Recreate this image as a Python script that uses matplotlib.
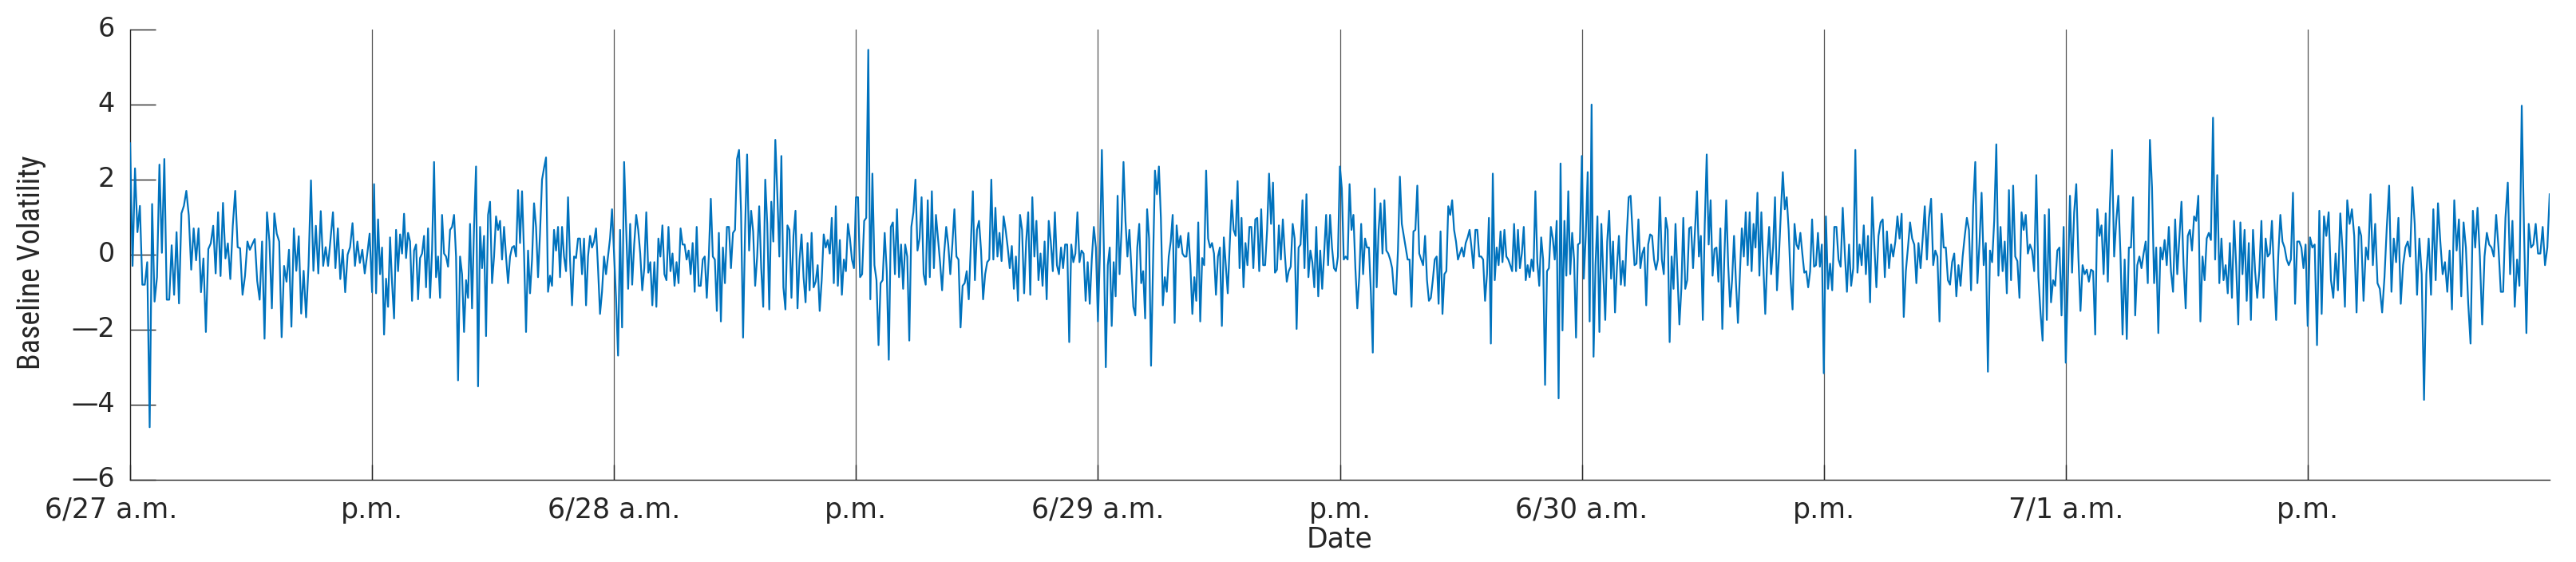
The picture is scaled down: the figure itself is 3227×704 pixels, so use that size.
import numpy as np
import matplotlib
matplotlib.use("Agg")
import matplotlib.pyplot as plt
from matplotlib import font_manager
from matplotlib.transforms import blended_transform_factory, ScaledTranslation

# Baseline volatility, one list per half-day
jun27_am = [2.97, -0.3, 2.3, 0.6, 1.3, -0.8, -0.8, -0.2, -4.6, 1.35, -1.25, -0.6, 2.4, 0.05, 2.55, -1.2, -1.2, 0.25, -1.07, 0.6, -1.3, 1.1, 1.3, 1.7, 1.05, -0.4, 0.7, -0.15, 0.7, -1.0, -0.1, -2.06, 0.15, 0.3, 0.77, -0.5, 1.13, -0.57, 1.38, -0.1, 0.3, -0.65, 0.77, 1.7, 0.2, 0.17, -1.07, -0.57, 0.35, 0.13, 0.28, 0.42, -0.7, -1.2, 0.35, -2.24, 1.13, 0.35, -1.43, 1.1, 0.56, 0.35, -2.2, -0.3, -0.72, 0.13, -1.92, 0.7, -0.43, 0.49, -1.57, -0.43, -1.67, -0.3, 1.98, -0.43, 0.77, -0.5, 1.16, -0.3, 0.2, -0.3, 0.42, 1.13, -0.36, 0.7, -0.65, 0.13, -1.0, 0.0, 0.2, 0.84, -0.3, 0.35, -0.22, 0.13, -0.5, 0.0, 0.56]
jun27_pm = [-1.0, 1.88, -1.03, 0.94, -0.52, 0.19, -2.13, -0.64, -1.39, 0.46, -0.76, -1.7, 0.66, -0.44, 0.54, 0.03, 1.09, -0.09, 0.58, 0.35, -1.23, 0.11, 0.27, -1.19, -0.09, 0.03, 0.5, -0.87, 0.7, -1.15, 0.11, 2.47, -0.6, -0.05, -1.15, 1.06, 0.03, -0.05, -0.32, 0.66, 0.74, 1.06, -0.05, -3.35, -0.05, -0.52, -2.06, -0.68, -1.15, 0.82, -1.43, 0.74, 2.35, -3.51, 0.74, -0.36, 0.5, -2.17, 1.06, 1.41, -0.76, -0.05, 1.02, 0.66, 0.9, -0.13, 0.74, -0.05, -0.76, -0.05, 0.19, 0.23, -0.05, 1.72, 0.31, 1.69, 0.03, -2.06, 0.11, -1.03, -0.13, 1.37, 0.74, -0.6, 0.58, 2.0, 2.31, 2.59, -0.99, -0.56, -0.83, 0.66, 0.11, 0.74, -0.6, 0.74, -0.05, -0.44, 1.53, -0.13, -1.35, -0.05, -0.09, 0.43, 0.43, -0.52, 0.43, -1.35, -0.05, 0.5, 0.19, 0.35, 0.7, -0.36, -1.58, -0.99, -0.05, -0.52, -0.05, 0.43, 1.21]
jun28_am = [0.03, -1.15, -2.69, 0.66, -1.94, 2.47, 0.74, -0.91, 0.82, -0.8, 0.27, 1.06, 0.66, 0.03, -0.95, -0.36, 1.13, -0.48, -0.2, -1.35, -0.2, -1.39, 0.43, -0.05, 0.78, -0.52, -0.68, 0.74, -0.44, 0.03, -0.83, -0.2, -0.76, 0.7, 0.27, 0.27, -0.13, 0.11, -0.52, 0.31, -0.99, 0.74, -0.83, -0.83, -0.13, -0.05, -1.15, -0.05, 1.49, -0.05, -0.13, -1.5, 0.58, -1.78, 0.19, -0.76, 0.74, 0.74, -0.36, 0.58, 0.66, 2.55, 2.79, 1.13, -2.21, 0.66, 2.67, 0.11, 1.17, 0.62, -0.83, -0.05, 1.29, -0.36, -1.39, 2.0, 0.82, -1.46, 1.41, 0.35, 3.06, 1.61, -0.05, 2.63, -0.87, -1.46, 0.78, 0.66, -1.15, 0.5, 1.17, -1.43, -0.13, 0.54, -0.6, -1.27, 0.31, -0.95, 0.58, -0.87, -0.72, -0.28, -1.5, -0.68, 0.54, 0.19, 0.39, 0.03, 0.98, -0.76, 1.29, -0.83, 0.39, -1.07, -0.13, -0.44, 0.82, 0.43, -0.13, -0.36]
jun28_pm = [1.53, 1.53, -0.6, -0.52, 0.9, 0.98, 5.46, -1.19, 2.16, -0.28, -0.68, -2.41, -0.76, -0.68, 0.58, -0.44, -2.8, 0.74, 0.86, -0.52, 1.21, -0.6, 0.27, -0.91, 0.27, -0.05, -2.29, 0.74, 1.13, 2.0, 0.11, 0.43, 1.53, -0.52, -0.8, 1.45, -0.6, 1.69, -0.36, 1.06, 0.43, -0.2, -0.95, 0.03, 0.74, 0.27, -0.52, 0.27, 1.21, -0.05, -0.13, -1.94, -0.83, -0.76, -0.44, -1.19, 0.27, 1.69, -0.68, 0.66, 0.9, 0.11, -1.19, -0.52, -0.2, -0.13, 2.0, -0.13, 1.25, -0.05, 0.58, -0.17, 1.02, 0.66, 0.19, -0.36, 0.23, -0.91, -0.05, -1.23, 1.06, 0.66, -1.03, 0.35, 1.13, -1.07, 1.53, -0.05, 0.9, -0.68, 0.03, -0.83, 0.35, -1.19, 0.9, 0.35, -0.44, 1.13, -0.28, -0.52, 0.19, -0.36, 0.27, 0.27, -2.33, 0.27, -0.2, 0.03, 1.13, -0.2, 0.11, 0.03, -1.23, -0.2, -1.31, -0.13, 0.74, 0.19]
jun29_am = [-1.78, 0.03, 2.79, 0.19, -3.0, -0.28, 0.19, -1.9, -0.2, -1.11, 1.57, -0.52, 0.66, 2.47, 0.9, -0.05, 0.66, -0.36, -1.39, -1.62, 0.19, 0.82, -0.76, -0.44, -1.7, 1.21, 0.43, -2.96, -0.28, 2.24, 1.61, 2.35, 0.98, -1.35, -0.6, -0.99, -0.05, 0.35, 1.06, -1.82, 0.78, 0.19, 0.5, 0.03, -0.05, -0.05, 0.58, -0.28, -1.58, -0.6, -1.23, 0.86, -1.78, -0.09, -0.28, 2.24, 0.43, 0.19, 0.31, 0.03, -1.07, -0.05, 0.19, -1.9, 0.46, -0.28, -1.03, 0.27, 1.45, 0.66, 0.5, 1.96, -0.36, 0.98, -0.87, 0.31, -0.28, 0.74, 0.74, -0.36, 0.94, 0.98, -0.44, 1.21, -0.28, -0.28, 0.66, 2.16, 0.82, 1.92, -0.48, -0.4, 0.78, -0.13, 0.94, 0.03, -0.72, -0.44, -0.32, 0.82, 0.43, -1.98, 0.19, 0.27, 1.45, -0.36, 1.61, -0.6, 0.11, -0.2, -0.87, 0.74, -1.11, 0.11, -0.91, 0.03, 1.06, -0.28, 1.06, 0.19, -0.36, -0.44, -0.05]
jun29_pm = [2.35, 1.76, -0.13, -0.05, -0.13, 1.88, 0.66, 1.06, -0.36, -1.43, -0.6, 0.82, -0.52, 0.43, 0.19, 0.19, -0.99, -2.61, 1.76, -0.87, 0.66, 1.37, 0.03, 1.45, 0.11, 0.03, -0.13, -0.36, -1.03, -1.07, 0.11, 2.08, 0.82, 0.5, 0.19, -0.13, -0.13, -1.39, 0.62, 0.66, 1.84, 0.03, -0.13, -0.28, 0.5, -0.68, -1.23, -1.15, -0.68, -0.13, -0.05, -1.31, 0.62, -1.58, -0.52, -0.44, 1.29, 1.06, 1.45, 0.66, 0.35, -0.13, 0.03, 0.19, -0.05, 0.31, 0.46, 0.66, 0.19, -0.36, 0.66, 0.66, -0.05, -0.05, -0.13, -1.23, -0.52, 0.98, -2.37, 2.16, -0.68, 0.19, -0.28, 0.62, -0.2, 0.66, -0.05, -0.13, -0.28, -0.44, 0.82, -0.44, 0.66, -0.36, 0.03, 0.74, -0.68, -0.28, -0.6, -0.13, -0.44, 1.69, -0.2, -0.83, 0.46, -0.13, -3.47, -0.44, -0.36, 0.74, 0.43, -0.13, 0.9, -3.83, 2.43, -2.02, 0.9, -0.56, 1.69, -0.52, 0.58, -0.13, -2.21, 0.27, 0.31]
jun30_am = [2.63, -0.64, 0.5, 2.2, -1.78, 4.0, -2.72, -0.28, 1.02, -2.06, 0.82, -0.52, -1.74, 0.35, 1.17, -0.64, 0.35, -1.54, -0.32, 0.5, -0.8, -0.17, -0.83, 0.5, 1.53, 1.57, 0.58, -0.28, -0.24, 0.94, -0.36, 0.03, 0.19, -1.35, 0.27, 0.54, 0.5, -0.13, -0.4, -0.13, 1.53, -0.13, -0.52, 0.98, 0.66, -2.33, -0.05, -0.91, 0.82, -0.52, -1.86, -0.91, 0.98, -0.91, -0.68, 0.7, 0.74, -0.36, 0.66, 1.69, -0.05, 0.5, -1.74, 0.82, 2.67, 0.27, 1.45, -0.56, 0.15, 0.19, -0.72, 0.7, -1.98, -0.13, 1.45, -0.28, -1.39, -0.68, 0.5, -0.76, -1.82, -0.52, 0.7, -0.05, 1.13, -0.28, 1.13, -0.44, 0.82, 0.19, 1.65, -0.56, 1.13, -0.28, -1.58, -0.13, 0.74, -0.52, 0.19, 1.53, -0.95, -0.05, 1.13, 2.2, 1.21, 1.53, 0.66, -0.68, -1.46, 0.82, 0.27, 0.15, 0.58, 0.03, -0.48, -0.44, -0.87, -0.44, 0.94, -0.32, -0.28, 0.58, -0.32, 0.27]
jun30_pm = [-3.16, 1.02, -0.91, -0.24, -0.95, 0.74, 0.74, -0.13, -0.32, 1.25, 0.03, -0.99, 0.27, -0.83, -0.36, 2.79, -0.48, 0.27, -0.28, 0.78, -0.52, 0.5, -1.27, 1.53, 0.27, -0.87, 0.5, 0.86, 0.94, -0.6, 0.62, -0.36, 0.27, -0.05, 0.35, 1.02, 0.43, 1.09, -1.66, -0.44, 0.19, 0.86, 0.43, 0.27, -0.76, 0.31, -0.36, 0.43, 1.29, -0.13, 0.98, 1.49, -0.28, 0.11, -0.05, -1.78, 1.09, 0.19, 0.19, -0.68, -0.8, -0.2, 0.03, -1.11, -0.28, -0.83, -0.05, 0.5, 0.98, 0.66, -0.95, 1.29, 2.47, -0.76, 0.31, 1.65, -0.28, 0.31, -3.12, 0.11, -0.2, 0.9, 2.94, -0.56, 0.74, -0.44, 0.35, -1.03, 1.72, -0.68, 1.84, -0.05, -0.17, -1.15, 1.13, 0.66, 1.06, 0.03, 0.27, 0.11, -0.44, 2.12, -0.6, -1.54, -2.29, 1.06, -1.74, 1.21, -1.27, -0.68, -0.83, 0.11, 0.19, -1.62, 0.74]
jul01_am = [-2.88, -0.76, 1.57, -0.48, 1.13, 1.88, -0.05, -1.5, -0.28, -0.52, -0.4, -0.72, -0.4, -0.44, -2.13, 1.21, 0.5, 0.78, -0.52, 1.1, -0.72, 1.37, 2.79, -0.05, 0.9, 1.57, 0.03, -2.13, -0.13, -2.25, 0.19, 0.19, 1.53, -1.62, -0.28, -0.05, -0.36, 0.03, 0.35, -0.76, 3.06, 1.8, -0.76, 0.19, -2.09, 0.19, -0.13, 0.39, -0.28, 0.74, -0.44, -0.99, 0.94, -0.52, 0.43, 1.41, -0.28, -1.43, 0.5, 0.66, 0.11, 1.02, 0.9, 1.57, -1.78, -0.05, -0.68, 0.43, 0.58, 0.39, 3.65, -0.13, 2.12, -0.76, 0.43, -0.68, -0.28, -1.03, 0.31, -1.15, 0.9, -0.28, -1.86, 0.86, -0.52, 0.66, -1.23, 0.31, -1.74, 0.66, -0.44, -1.15, -0.44, 0.9, -1.15, 0.43, -0.05, 0.03, 0.9, -0.52, -1.74, -0.05, 1.06, 0.35, 0.19, -0.13, -0.28, -0.13, 1.65, -1.31, 0.35, 0.35, 0.19, -0.36, 0.27]
jul01_pm = [-1.9, 0.46, 0.19, 0.27, -2.41, 1.17, -1.58, 1.02, 0.5, 1.13, -0.68, -1.15, 0.03, -0.95, 1.1, 0.11, -1.39, 1.45, 0.82, 1.21, 0.5, -1.54, 0.74, 0.5, -1.23, 0.19, -0.13, 1.61, -0.28, 0.82, -0.76, -0.91, -1.54, -0.6, 0.74, 1.84, -0.99, 0.43, -0.2, 0.98, -1.31, -0.28, 0.19, 0.35, -0.05, 1.8, 0.82, -1.07, 0.43, -0.52, -3.87, -0.52, 0.43, -1.07, 1.21, -0.68, 1.37, 0.35, -0.52, -0.2, -0.99, 0.11, -1.46, 1.45, 0.11, 0.94, -1.11, 0.86, 0.19, -1.31, -2.37, 1.17, 0.19, 1.25, -0.05, -1.86, -0.05, 0.58, 0.27, 0.19, -0.05, 1.06, 0.19, -0.99, -0.99, 0.98, 1.92, -0.52, 0.9, -1.39, -0.13, -0.83, 3.97, 0.58, -2.09, 0.82, 0.19, 0.27, 0.82, 0.03, 0.03, 0.74, -0.28, 0.19, 1.61]

half_days = [jun27_am, jun27_pm, jun28_am, jun28_pm, jun29_am,
             jun29_pm, jun30_am, jun30_pm, jul01_am, jul01_pm]
tick_labels = ['6/27 a.m.', 'p.m.', '6/28 a.m.', 'p.m.', '6/29 a.m.',
               'p.m.', '6/30 a.m.', 'p.m.', '7/1 a.m.', 'p.m.']
y_ticks = [-6, -4, -2, 0, 2, 4, 6]
y_tick_labels = ['\u2014' + '6', '\u2014' + '4', '\u2014' + '2', '0', '2', '4', '6']

# time axis in half-days, samples evenly spaced within each half-day
t_parts, v_parts = [], []
for k, seg in enumerate(half_days):
    n = len(seg)
    if k == len(half_days) - 1:
        t_parts.append(np.linspace(k, k + 1, n))
    else:
        t_parts.append(k + np.arange(n) / n)
    v_parts.append(np.asarray(seg, dtype=float))
t = np.concatenate(t_parts)
v = np.concatenate(v_parts)

# narrowest installed family for the rotated (condensed-looking) label
names = {f.name for f in font_manager.fontManager.ttflist}
narrow_pref = ['Liberation Sans Narrow', 'Roboto Condensed', 'Open Sans Condensed',
               'Noto Sans Condensed', 'DejaVu Sans Condensed', 'Roboto', 'Liberation Sans']
ylab_family = next((f for f in narrow_pref if f in names), 'DejaVu Sans')

W, H = 3227, 704
DPI = 100
fig = plt.figure(figsize=(W / DPI, H / DPI), dpi=DPI)
ax = fig.add_axes([163 / W, 1 - 601 / H, (3194 - 163) / W, (601 - 37) / H])

axis_col = '#262626'
for k in range(1, len(half_days)):
    ax.axvline(k, color='#555555', lw=0.9, zorder=1)

ax.plot(t, v, color='#0072BD', lw=1.6, zorder=3)

ax.set_xlim(0, len(half_days))
ax.set_ylim(-6, 6)
ax.set_xticks(range(len(half_days)))
ax.set_xticklabels(tick_labels, fontsize=25, family='DejaVu Sans', color=axis_col)
ax.set_yticks(y_ticks)

ax.tick_params(axis='y', direction='in', length=23, width=1.0, color=axis_col,
               labelleft=False)
ax.tick_params(axis='x', direction='in', length=14, width=1.0, color=axis_col, pad=15)

# first date label sits a little left of its tick in the original
first = ax.xaxis.get_major_ticks()[0].label1
first.set_transform(first.get_transform() + ScaledTranslation(-24.0 / DPI, 0, fig.dpi_scale_trans))

# y tick labels: right edge ~19 px left of the axis line (figure x, data y)
ytrans = blended_transform_factory(fig.transFigure, ax.transData)
for yv, lab in zip(y_ticks, y_tick_labels):
    fig.text(144.0 / W, yv, lab, transform=ytrans, ha='right', va='center',
             fontsize=24, family='DejaVu Sans', color=axis_col)

for s in ['top', 'right']:
    ax.spines[s].set_visible(False)
for s in ['left', 'bottom']:
    ax.spines[s].set_color(axis_col)
    ax.spines[s].set_linewidth(1.0)

ax.set_xlabel('Date', fontsize=25, family='DejaVu Sans', color=axis_col, labelpad=2)

# y label: condensed family, ~268 px long, centred near x = 40 px
ylab = fig.text(40.0 / W, 1 - 329.0 / H, 'Baseline Volatility', rotation=90,
                ha='center', va='center', fontsize=30,
                family=[ylab_family, 'DejaVu Sans'], color=axis_col)
renderer = fig.canvas.get_renderer()
for _ in range(2):
    fig.canvas.draw()
    ext = ylab.get_window_extent(renderer)
    if ext.height > 0:
        ylab.set_fontsize(ylab.get_fontsize() * 268.0 / ext.height)

fig.savefig('out.png', dpi=DPI)
